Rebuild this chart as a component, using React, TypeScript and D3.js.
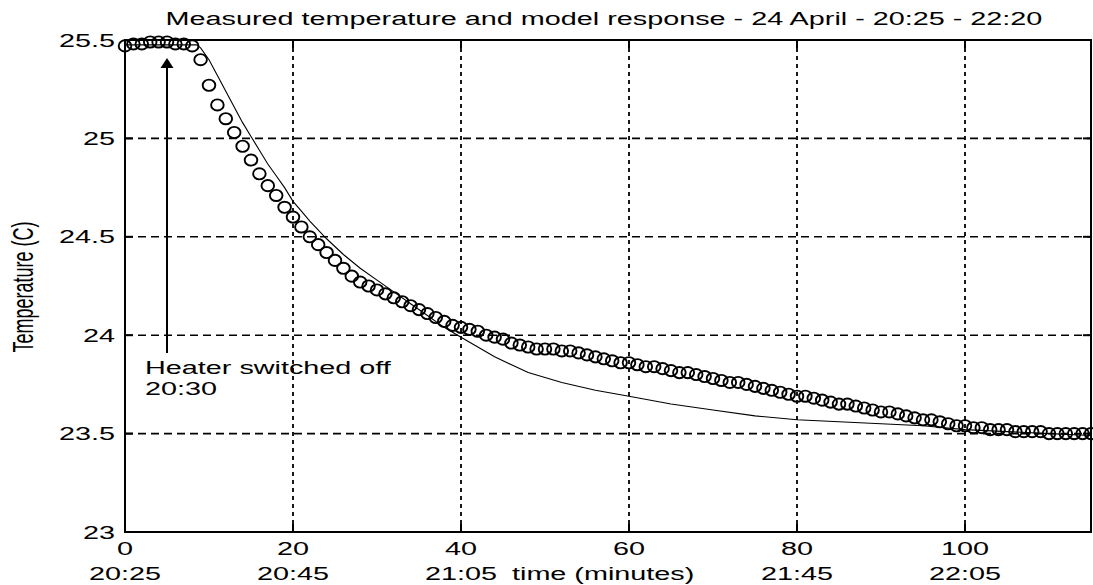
import * as d3 from "d3";

// measured temperature, one sample per minute from 20:25 (t = 0 .. 115)
const measuredTemp = [
  25.47, 25.48, 25.48, 25.49, 25.49, 25.49, 25.48, 25.48, 25.47, 25.4,
  25.27, 25.17, 25.1, 25.03, 24.96, 24.89, 24.82, 24.76, 24.71, 24.65,
  24.6, 24.55, 24.5, 24.46, 24.42, 24.38, 24.34, 24.3, 24.27, 24.25,
  24.23, 24.21, 24.19, 24.17, 24.15, 24.13, 24.11, 24.09, 24.07, 24.05,
  24.04, 24.03, 24.02, 24.0, 23.99, 23.98, 23.96, 23.95, 23.94, 23.93,
  23.93, 23.93, 23.92, 23.92, 23.91, 23.9, 23.89, 23.88, 23.87, 23.86,
  23.86, 23.85, 23.84, 23.84, 23.83, 23.82, 23.81, 23.81, 23.8, 23.79,
  23.78, 23.77, 23.76, 23.76, 23.75, 23.74, 23.73, 23.72, 23.71, 23.7,
  23.69, 23.69, 23.68, 23.67, 23.66, 23.65, 23.65, 23.64, 23.63, 23.62,
  23.61, 23.61, 23.6, 23.59, 23.58, 23.57, 23.57, 23.56, 23.55, 23.54,
  23.54, 23.53, 23.53, 23.52, 23.52, 23.52, 23.51, 23.51, 23.51, 23.51,
  23.5, 23.5, 23.5, 23.5, 23.5, 23.5,
];

// model response
const modelTime = [
  0, 8.5, 9, 10, 11, 12, 13, 14, 15, 16, 17, 18, 19, 20, 21, 22, 24, 26, 28,
  30, 32, 34, 36, 38, 40, 44, 48, 52, 56, 60, 65, 70, 75, 80, 85, 90, 95, 100,
  105, 110, 115,
];
const modelTemp = [
  25.475, 25.475, 25.46, 25.4, 25.32, 25.24, 25.16, 25.08, 25.01, 24.94, 24.87,
  24.81, 24.75, 24.68, 24.63, 24.58, 24.49, 24.41, 24.34, 24.28, 24.22, 24.16,
  24.1, 24.04, 23.99, 23.89, 23.81, 23.76, 23.72, 23.69, 23.65, 23.62, 23.59,
  23.57, 23.56, 23.55, 23.54, 23.52, 23.51, 23.5, 23.49,
];

const xTicks = [0, 20, 40, 60, 80, 100];
const xClock = ["20:25", "20:45", "21:05", "", "21:45", "22:05"];
const yTicks = [23, 23.5, 24, 24.5, 25, 25.5];

const W = 1093;
const H = 585;
const left = 125;
const right = 1091;
const top = 40;
const bottom = 532;
const SX = 1.6; // horizontal stretch of the original bitmap text
const font = "'Liberation Sans', Arial, sans-serif";

function Label({ x, y, anchor = "start", children, rotate = false }) {
  const tf = rotate
    ? `translate(${x},${y}) scale(${SX},1) rotate(-90)`
    : `translate(${x},${y}) scale(${SX},1)`;
  return (
    <g transform={tf}>
      <text x={0} y={0} textAnchor={anchor} fontFamily={font} fontSize={18} fill="#000">
        {children}
      </text>
    </g>
  );
}

export default function App() {
  const x = d3.scaleLinear().domain([0, 115]).range([left, right]);
  const y = d3.scaleLinear().domain([23, 25.5]).range([bottom, top]);
  const line = d3
    .line<number>()
    .x((_, i) => x(modelTime[i]))
    .y((d) => y(d));
  const tick = 8;
  const arrowX = x(5);

  return (
    <svg
      width={W}
      height={H}
      style={{ position: "absolute", left: 0, top: 0, background: "#fff" }}
    >
      <Label x={604} y={25} anchor="middle">
        Measured temperature and model response - 24 April - 20:25 - 22:20
      </Label>

      {/* grid */}
      {xTicks
        .filter((t) => t > 0)
        .map((t) => (
          <line
            key={"gx" + t}
            x1={x(t)}
            x2={x(t)}
            y1={top}
            y2={bottom}
            stroke="#000"
            strokeWidth={1.8}
            strokeDasharray="4,4"
          />
        ))}
      {yTicks
        .filter((t) => t > 23 && t < 25.5)
        .map((t) => (
          <line
            key={"gy" + t}
            x1={left}
            x2={right}
            y1={y(t)}
            y2={y(t)}
            stroke="#000"
            strokeWidth={1.6}
            strokeDasharray="8,5"
          />
        ))}

      {/* ticks, inside on all sides */}
      {xTicks.map((t) => (
        <g key={"tx" + t} stroke="#000" strokeWidth={2}>
          <line x1={x(t)} x2={x(t)} y1={bottom} y2={bottom - tick} />
          <line x1={x(t)} x2={x(t)} y1={top} y2={top + tick} />
        </g>
      ))}
      {yTicks.map((t) => (
        <g key={"ty" + t} stroke="#000" strokeWidth={2}>
          <line x1={left} x2={left + tick} y1={y(t)} y2={y(t)} />
          <line x1={right} x2={right - tick} y1={y(t)} y2={y(t)} />
        </g>
      ))}

      {/* model response */}
      <path d={line(modelTemp) ?? ""} fill="none" stroke="#000" strokeWidth={1.1} />

      {/* measured */}
      {measuredTemp.map((v, i) => (
        <ellipse
          key={"m" + i}
          cx={x(i)}
          cy={y(v)}
          rx={6.3}
          ry={5.6}
          fill="none"
          stroke="#000"
          strokeWidth={1.9}
        />
      ))}

      {/* axes box */}
      <rect
        x={left}
        y={top}
        width={right - left}
        height={bottom - top}
        fill="none"
        stroke="#000"
        strokeWidth={2}
      />

      {/* tick labels */}
      {yTicks.map((t) => (
        <Label key={"ly" + t} x={115} y={y(t) + 6.5} anchor="end">
          {String(t)}
        </Label>
      ))}
      {xTicks.map((t, i) => (
        <g key={"lx" + t}>
          <Label x={x(t)} y={555} anchor="middle">
            {String(t)}
          </Label>
          {xClock[i] && (
            <Label x={x(t)} y={580} anchor="middle">
              {xClock[i]}
            </Label>
          )}
        </g>
      ))}
      <Label x={512} y={580}>
        time (minutes)
      </Label>
      <Label x={33} y={287} anchor="middle" rotate>
        Temperature (C)
      </Label>

      {/* annotation */}
      <line x1={arrowX} x2={arrowX} y1={353} y2={66} stroke="#000" strokeWidth={2} />
      <path
        d={`M${arrowX},58 L${arrowX - 6.5},68 L${arrowX + 6.5},68 Z`}
        fill="#000"
      />
      <Label x={145} y={374}>
        Heater switched off
      </Label>
      <Label x={145} y={395}>
        20:30
      </Label>
    </svg>
  );
}
